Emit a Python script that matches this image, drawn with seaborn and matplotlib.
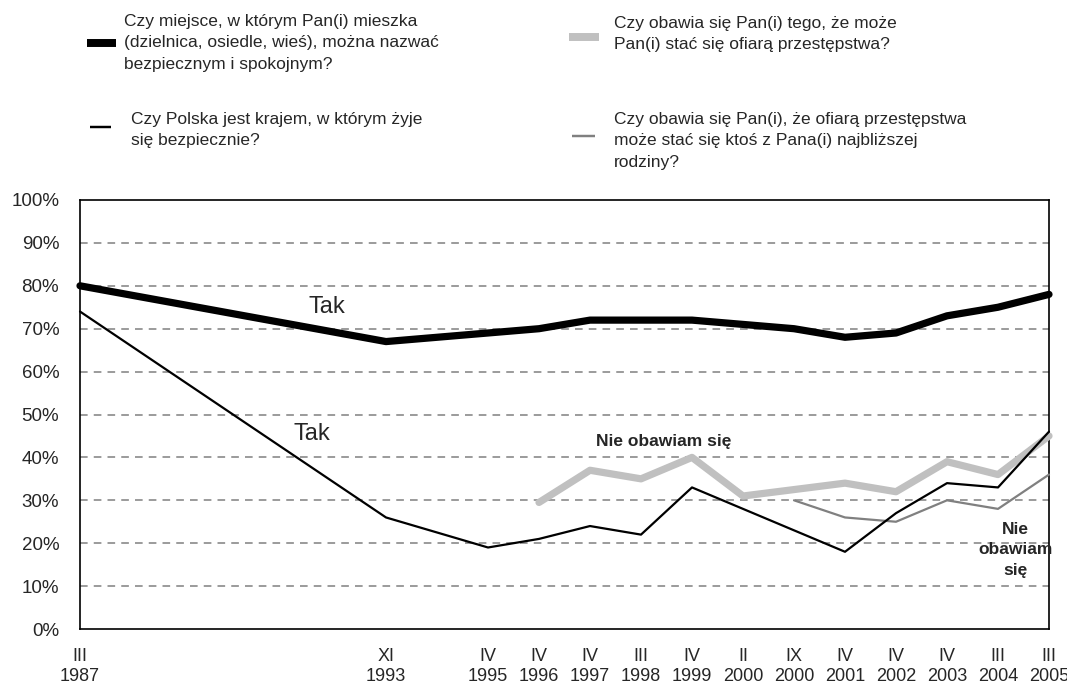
import numpy as np
import pandas as pd
import matplotlib.pyplot as plt
from matplotlib.lines import Line2D
import seaborn as sns

sns.set_style('white')
plt.rcParams['font.family'] = ['Liberation Sans', 'DejaVu Sans']

# fale badania (z pustymi latami miedzy nimi na osi)
fale = ['III\n1987', 'XI\n1993', 'IV\n1995', 'IV\n1996', 'IV\n1997', 'III\n1998', 'IV\n1999',
        'II\n2000', 'IX\n2000', 'IV\n2001', 'IV\n2002', 'IV\n2003', 'III\n2004', 'III\n2005']
slot = [0, 6, 8, 9, 10, 11, 12, 13, 14, 15, 16, 17, 18, 19]

miejsce_tak = [80, 67, 69, 70, 72, 72, 72, 71, 70, 68, 69, 73, 75, 78]
polska_tak = [74, 26, 19, 21, 24, 22, 33, 28, 23, 18, 27, 34, 33, 46]
ja_nie_obawiam = [np.nan, np.nan, np.nan, 29.5, 37, 35, 40, 31, 32.5, 34, 32, 39, 36, 45]
rodzina_nie_obawiam = [np.nan, np.nan, np.nan, np.nan, np.nan, np.nan, np.nan, np.nan, 30, 26, 25, 30, 28, 36]

etykiety = {'miejsce': 'Czy miejsce, w którym Pan(i) mieszka\n(dzielnica, osiedle, wieś), można nazwać\nbezpiecznym i spokojnym?',
            'polska': 'Czy Polska jest krajem, w którym żyje\nsię bezpiecznie?',
            'ja': 'Czy obawia się Pan(i) tego, że może\nPan(i) stać się ofiarą przestępstwa?',
            'rodzina': 'Czy obawia się Pan(i), że ofiarą przestępstwa\nmoże stać się ktoś z Pana(i) najbliższej\nrodziny?'}

df = pd.DataFrame({'slot': slot, 'miejsce': miejsce_tak, 'polska': polska_tak,
                   'ja': ja_nie_obawiam, 'rodzina': rodzina_nie_obawiam})

W, H = 1067, 687
fig = plt.figure(figsize=(W / 100, H / 100), dpi=100)
ax = fig.add_axes([80 / W, 58 / H, 969 / W, 429 / H])

style = {'miejsce': ('black', 5.2), 'polska': ('black', 1.6),
         'ja': ('#c0c0c0', 5.2), 'rodzina': ('#808080', 1.6)}
for col in ['ja', 'rodzina', 'polska', 'miejsce']:
    d = df.dropna(subset=[col])
    sns.lineplot(data=d, x='slot', y=col, color=style[col][0], linewidth=style[col][1],
                 ax=ax, clip_on=False, zorder=3)

ax.set_xlim(0, 19)
ax.set_ylim(0, 100)
ax.set_xticks(slot)
ax.set_xticklabels(fale, fontsize=13, linespacing=1.2)
ax.set_yticks(range(0, 101, 10))
ax.set_yticklabels([f'{v}%' for v in range(0, 101, 10)], fontsize=13.5)
ax.tick_params(axis='x', length=0, pad=14)
ax.tick_params(axis='y', length=0, pad=15)
ax.set_xlabel('')
ax.set_ylabel('')
for v in range(10, 100, 10):
    ax.axhline(v, color='#808080', linestyle=(0, (5, 4)), linewidth=1.1, zorder=1)
for s in ax.spines.values():
    s.set_color('black')
    s.set_linewidth(1.2)

ax.text(4.85, 75, 'Tak', fontsize=17, ha='center', va='center')
ax.text(4.55, 45.5, 'Tak', fontsize=17, ha='center', va='center')
ax.text(11.45, 43.6, 'Nie obawiam się', fontsize=12.5, fontweight='bold', ha='center', va='center')
ax.text(18.35, 18.5, 'Nie\nobawiam\nsię', fontsize=12.5, fontweight='bold', ha='center', va='center',
        linespacing=1.45)

# legenda rysowana recznie: (x uchwytu od, do, y uchwytu, x tekstu, y srodka tekstu) w pikselach
legenda = {'miejsce': (87, 116, 43, 124, 43),
           'polska': (90, 111, 127, 131, 130),
           'ja': (569, 599, 37, 614, 34),
           'rodzina': (572, 595, 136, 614, 141)}
for col, (x0, x1, yh, xt, yt) in legenda.items():
    fig.add_artist(Line2D([x0 / W, x1 / W], [1 - yh / H, 1 - yh / H], color=style[col][0],
                          linewidth=style[col][1] * 1.1, transform=fig.transFigure, solid_capstyle='butt'))
    fig.text(xt / W, 1 - yt / H, etykiety[col], fontsize=12.5, ha='left', va='center', linespacing=1.55)

fig.savefig('out.png', dpi=100)
